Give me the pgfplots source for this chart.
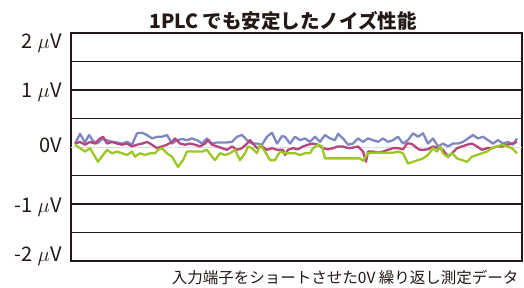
\documentclass[border=0pt]{standalone}
\usepackage{fontspec}
\setmainfont{Noto Sans CJK JP}
\usepackage{pgfplots}
\pgfplotsset{compat=1.18}
\definecolor{frame}{HTML}{231815}
\definecolor{sblue}{HTML}{7F87C2}
\definecolor{smag}{HTML}{B8447F}
\definecolor{sgreen}{HTML}{9CC823}
\newcommand{\uV}[1]{#1\hspace{5pt}$\mu$\hspace{1pt}V}
\begin{document}
\begin{tikzpicture}[x=1pt,y=1pt]
\path[use as bounding box] (0,0) rectangle (524,288);
\begin{axis}[at={(71pt,27pt)}, anchor=south west, scale only axis,
  width=451pt, height=228pt,
  xmin=71, xmax=522, ymin=-2, ymax=2,
  axis line style={frame, line width=1.5pt},
  xtick=\empty,
  ytick={-1.5,-1,-0.5,0.5,1,1.5}, yticklabels={},
  ymajorgrids, grid style={frame, line width=1.3pt},
  major tick length=0pt, tick style={draw=none},
  extra y ticks={-1.92,-1.06,0.03,0.96,1.82},
  extra y tick labels={\uV{-2},\uV{-1},0V\hspace{9pt},\uV{1},\uV{2}},
  extra y tick style={grid=none},
  yticklabel style={font=\fontsize{20}{20}\selectfont, color=frame, anchor=east, xshift=-5pt},
  clip=false]
\addplot[gray!25, line width=0.8pt] coordinates {(71,0) (522,0)};
\addplot[sblue, line width=2.3pt, line join=round] table {
75 0.06
80 0.23
85 0.08
89 0.21
93 0.11
97 0.06
102 0.14
107 0.12
112 0.09
117 0.08
122 0.06
127 0.09
132 0.04
137 0.24
142 0.25
147 0.21
152 0.15
157 0.18
162 0.18
167 0.21
172 0.06
177 0.12
182 0.14
187 0.12
192 0.15
197 0.12
202 0.06
207 0.15
212 0.06
217 0.08
222 0.08
227 0.08
232 0.09
237 0.18
242 0.21
247 0.12
252 0.06
257 0.06
262 0.04
267 0.18
272 0.25
277 0.06
282 0.19
285 0.18
290 0.06
295 0.18
300 0.12
305 0.15
310 0.09
315 0.18
320 0.09
325 0.21
330 0.15
335 0.12
338 0.23
343 0.15
348 0.04
353 0.06
358 0.15
363 0.09
368 0.15
373 0.12
378 0.09
383 0.15
388 0.09
393 0.12
398 0.18
403 0.06
408 0.12
413 0.24
418 0.18
423 0.24
428 0.06
433 0.15
438 0.01
443 0.06
448 0.01
453 0.06
458 0.06
463 0.09
468 0.15
473 0.21
478 0.15
483 0.18
488 0.12
493 0.06
498 0.12
503 0.06
508 0.09
513 0.04
517 0.15
};
\addplot[smag, line width=2.3pt, line join=round] table {
75 0.06
80 0.09
85 0.04
90 0.09
95 0.06
100 0.15
103 0.18
107 0.06
112 0.09
117 0.06
122 0.04
127 0.06
132 0.01
137 0.04
142 0.06
147 0.09
152 0.04
157 -0.02
162 0.01
167 0.04
172 0.09
175 0.15
180 0.06
185 0.04
190 0.06
195 0.04
200 0.01
205 0.06
208 0.12
212 0.04
217 0.01
222 -0.02
227 -0.05
232 0.01
237 -0.05
242 -0.02
247 0.06
250 0.12
253 0.06
257 -0.02
262 0.01
267 -0.05
272 -0.02
277 -0.05
283 -0.05
285 -0.14
288 -0.05
293 -0.02
298 -0.04
303 0.01
308 0.04
313 0.06
318 0.04
323 -0.02
328 -0.04
333 -0.02
338 0.01
343 0.01
348 -0.02
353 -0.01
358 0.01
363 -0.08
366 -0.26
368 -0.08
373 -0.08
378 -0.10
383 -0.08
388 -0.05
393 -0.02
398 -0.02
403 -0.04
407 0.06
410 0.06
413 0.04
417 -0.02
420 -0.05
423 -0.05
428 -0.04
433 0.01
438 -0.02
443 -0.05
448 -0.17
452 -0.11
457 -0.02
462 0.01
467 0.04
472 0.06
477 0.01
482 -0.05
487 -0.02
492 -0.02
497 0.01
502 0.01
507 0.04
512 0.06
517 0.09
};
\addplot[sgreen, line width=2.3pt, line join=round] table {
75 0.04
80 -0.02
85 -0.08
90 -0.02
93 -0.11
98 -0.26
103 -0.14
107 -0.05
112 -0.11
117 -0.08
122 -0.11
127 -0.14
132 -0.08
135 -0.17
140 -0.11
145 -0.14
150 -0.11
155 -0.11
158 -0.05
162 -0.02
167 -0.11
172 -0.17
178 -0.35
183 -0.23
187 -0.08
192 -0.08
197 -0.08
202 -0.08
207 -0.05
212 -0.17
215 -0.23
220 -0.11
225 -0.14
230 -0.11
235 -0.05
240 -0.23
245 -0.11
248 0.01
252 -0.02
257 -0.11
260 0.04
265 -0.08
270 -0.23
275 -0.23
280 -0.08
285 -0.11
290 -0.11
295 -0.11
300 -0.14
305 -0.11
310 -0.11
313 -0.02
318 0.04
322 0.01
325 -0.20
330 -0.20
340 -0.20
350 -0.20
360 -0.20
363 -0.24
368 -0.11
373 -0.10
383 -0.10
393 -0.10
398 -0.08
403 -0.11
408 -0.29
413 -0.26
418 -0.23
423 -0.20
428 -0.14
433 -0.02
437 -0.08
440 0.01
443 -0.11
447 -0.17
452 -0.11
457 -0.20
462 -0.23
467 -0.26
472 -0.17
477 -0.14
482 -0.11
487 -0.08
492 -0.02
497 0.01
502 0.04
507 0.01
512 -0.02
517 -0.11
};
\end{axis}
\node[font=\fontsize{19.5}{20}\selectfont\bfseries, color=frame] at (283,267.5) {1PLC でも安定したノイズ性能};
\node[font=\fontsize{15.5}{16}\selectfont, color=frame, anchor=east] at (522,10) {入力端子をショートさせた0V 繰り返し測定データ};
\end{tikzpicture}
\end{document}
